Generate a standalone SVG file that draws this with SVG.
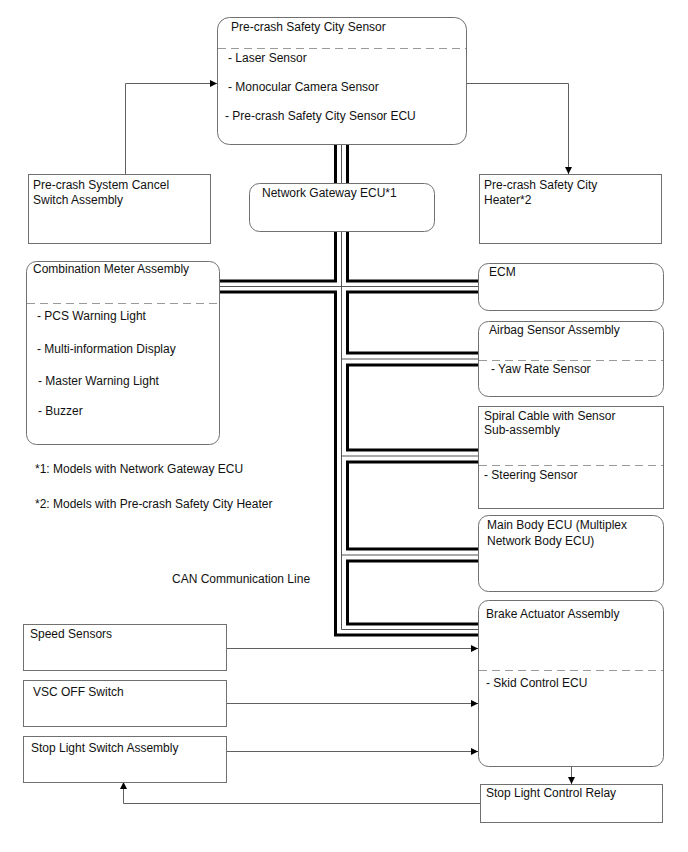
<svg xmlns="http://www.w3.org/2000/svg" width="688" height="852" viewBox="0 0 688 852">
<defs>
<marker id="ah" viewBox="0 0 10 10" refX="10" refY="5" markerWidth="9" markerHeight="7" markerUnits="userSpaceOnUse" orient="auto">
<path d="M0,0 L10,5 L0,10 Z" fill="#000"/>
</marker>
<style>
text{font-family:"Liberation Sans",Arial,sans-serif;font-size:12px;fill:#111}
.box{fill:#fff;stroke:#707070;stroke-width:1}
.dash{stroke:#9a9a9a;stroke-width:1;stroke-dasharray:8,5;fill:none}
.arr{fill:none;stroke:#606060;stroke-width:1;marker-end:url(#ah)}
.thick{fill:none;stroke:#000;stroke-width:3;stroke-linejoin:miter;stroke-linecap:butt}
.thin{fill:none;stroke:#555;stroke-width:1}
</style>
</defs>
<rect width="688" height="852" fill="#fff"/>
<g id="connectors">
<path class="thick" d="M335.5,145 V281 H219"/>
<path class="thick" d="M219,292 H335.5 V635 H478"/>
<path class="thick" d="M347.5,145 V281 H478"/>
<path class="thick" d="M478,292 H347.5 V353 H478"/>
<path class="thick" d="M478,365 H347.5 V450 H478"/>
<path class="thick" d="M478,462 H347.5 V549 H478"/>
<path class="thick" d="M478,561 H347.5 V624 H478"/>
<path class="thin" d="M341.5,145 V629.5 H478"/>
<path class="thin" d="M219,286.5 H478"/>
<path class="thin" d="M341.5,359 H478"/>
<path class="thin" d="M341.5,456 H478"/>
<path class="thin" d="M341.5,555 H478"/>
<path class="arr" d="M125.5,174 V83.5 H217"/>
<path class="arr" d="M466,83.5 H568.5 V174"/>
<path class="arr" d="M226,648.5 H478"/>
<path class="arr" d="M226,703.5 H478"/>
<path class="arr" d="M226,751.5 H478"/>
<path class="arr" d="M571.5,766 V784"/>
<path class="arr" d="M480,803.5 H123.5 V782"/>
</g>
<g id="pcs-sensor">
<rect class="box" x="217.5" y="17.5" width="249" height="127" rx="12"/>
<line class="dash" x1="218" y1="48.5" x2="466" y2="48.5"/>
<text x="231" y="31">Pre-crash Safety City Sensor</text>
<text x="228" y="62">- Laser Sensor</text>
<text x="228" y="91">- Monocular Camera Sensor</text>
<text x="225" y="120">- Pre-crash Safety City Sensor ECU</text>
</g>
<g id="cancel-switch">
<rect class="box" x="28.5" y="174.5" width="182" height="69"/>
<text x="33" y="189">Pre-crash System Cancel</text>
<text x="33" y="204">Switch Assembly</text>
</g>
<g id="gateway">
<rect class="box" x="249.5" y="183.5" width="185" height="48" rx="10"/>
<text x="262" y="197">Network Gateway ECU*1</text>
</g>
<g id="heater">
<rect class="box" x="479.5" y="174.5" width="182" height="69"/>
<text x="484" y="189">Pre-crash Safety City</text>
<text x="484" y="204">Heater*2</text>
</g>
<g id="combination-meter">
<rect class="box" x="26.5" y="261.5" width="193" height="183" rx="10"/>
<line class="dash" x1="27" y1="303.5" x2="219" y2="303.5"/>
<text x="33" y="273">Combination Meter Assembly</text>
<text x="37" y="320">- PCS Warning Light</text>
<text x="37" y="353">- Multi-information Display</text>
<text x="38" y="385">- Master Warning Light</text>
<text x="38" y="415">- Buzzer</text>
</g>
<g id="ecm">
<rect class="box" x="478.5" y="263.5" width="185" height="47" rx="10"/>
<text x="489" y="276">ECM</text>
</g>
<g id="airbag">
<rect class="box" x="478.5" y="321.5" width="185" height="75" rx="10"/>
<line class="dash" x1="479" y1="360.5" x2="663" y2="360.5"/>
<text x="489" y="334">Airbag Sensor Assembly</text>
<text x="491" y="373">- Yaw Rate Sensor</text>
</g>
<g id="spiral-cable">
<rect class="box" x="478.5" y="406.5" width="185" height="102"/>
<line class="dash" x1="479" y1="465.5" x2="663" y2="465.5"/>
<text x="484" y="420">Spiral Cable with Sensor</text>
<text x="484" y="434">Sub-assembly</text>
<text x="484" y="479">- Steering Sensor</text>
</g>
<g id="main-body-ecu">
<rect class="box" x="478.5" y="515.5" width="185" height="76" rx="10"/>
<text x="487" y="529">Main Body ECU (Multiplex</text>
<text x="487" y="545">Network Body ECU)</text>
</g>
<g id="brake-actuator">
<rect class="box" x="478.5" y="600.5" width="185" height="166" rx="10"/>
<line class="dash" x1="479" y1="670.5" x2="663" y2="670.5"/>
<text x="486" y="618">Brake Actuator Assembly</text>
<text x="486" y="687">- Skid Control ECU</text>
</g>
<g id="speed-sensors">
<rect class="box" x="23.5" y="624.5" width="203" height="46"/>
<text x="30" y="638">Speed Sensors</text>
</g>
<g id="vsc-off">
<rect class="box" x="23.5" y="680.5" width="203" height="46"/>
<text x="33" y="696">VSC OFF Switch</text>
</g>
<g id="stop-light-switch">
<rect class="box" x="23.5" y="736.5" width="203" height="46"/>
<text x="31" y="752">Stop Light Switch Assembly</text>
</g>
<g id="stop-light-relay">
<rect class="box" x="480.5" y="784.5" width="182" height="38"/>
<text x="486" y="797">Stop Light Control Relay</text>
</g>
<g id="notes">
<text x="35" y="473">*1: Models with Network Gateway ECU</text>
<text x="35" y="508">*2: Models with Pre-crash Safety City Heater</text>
<text x="172" y="583">CAN Communication Line</text>
</g>
</svg>
